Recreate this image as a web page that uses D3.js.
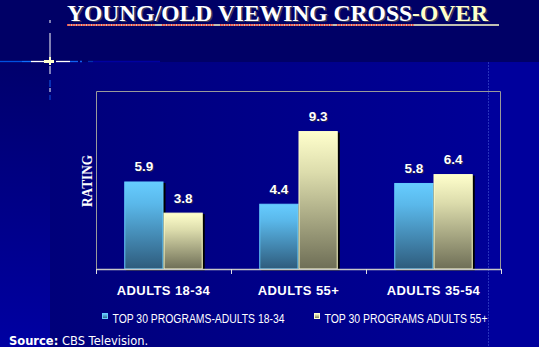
<!DOCTYPE html>
<html><head><meta charset="utf-8">
<script src="https://cdn.jsdelivr.net/npm/d3@7"></script>
<style>html,body{margin:0;padding:0;background:#00009c;overflow:hidden}svg{display:block}</style>
</head><body>
<script>
const categories = ["ADULTS 18-34", "ADULTS 55+", "ADULTS 35-54"];
const seriesNames = ["TOP 30 PROGRAMS-ADULTS 18-34", "TOP 30 PROGRAMS ADULTS 55+"];
const young = [5.9, 4.4, 5.8];
const old = [3.8, 9.3, 6.4];
const yDomain = [0, 12];

(function () {
const W = 539, H = 347;
const svg = d3.select("body").append("svg").attr("width", W).attr("height", H);
const defs = svg.append("defs");

function lin(id, x2, y2, stops) {
  const g = defs.append("linearGradient").attr("id", id)
    .attr("x1", 0).attr("y1", 0).attr("x2", x2).attr("y2", y2);
  stops.forEach(([o, c]) => g.append("stop").attr("offset", o).attr("stop-color", c));
}
lin("gBlue", 0, 1, [[0, "#66ccff"], [0.25, "#5ab8ea"], [1, "#2e5b7c"]]);
lin("gCream", 0, 1, [[0, "#ffffcc"], [0.3, "#dcdcac"], [1, "#6e6e56"]]);
lin("gPanel", 1, 0, [[0, "#00007a"], [1, "#000097"]]);
lin("gLeft", 0, 1, [[0, "#00006c"], [1, "#0000a2"]]);

// background
svg.append("rect").attr("width", W).attr("height", H).attr("fill", "#00009c");
svg.append("rect").attr("x", 0).attr("y", 62).attr("width", 50).attr("height", H - 62).attr("fill", "url(#gLeft)");
svg.append("rect").attr("x", 50).attr("y", 62).attr("width", 438).attr("height", H - 62).attr("fill", "url(#gPanel)");
svg.append("rect").attr("width", W).attr("height", 62).attr("fill", "#000066");
svg.append("line").attr("x1", 488.5).attr("x2", 488.5).attr("y1", 62).attr("y2", H)
  .attr("stroke", "#3a48c8").attr("stroke-width", 1).attr("stroke-dasharray", "2,1").attr("opacity", 0.7);

// crosshair decoration
const deco = svg.append("g");
[[0, 22, "#0050e0"], [22, 31, "#1070ff"], [31, 44, "#ffffff"], [56, 70, "#ffffff"], [70, 78, "#1060f0"], [80, 82, "#1060f0"], [88, 93, "#0030b0"], [93, 160, "#0000a0"]]
  .forEach(([a, b, c]) => deco.append("line").attr("x1", a).attr("x2", b).attr("y1", 61.5).attr("y2", 61.5).attr("stroke", c).attr("stroke-width", 1.3));
[[20, 23, "#ffffff"], [33, 57, "#ffffff"], [66, 74, "#ffffff"], [80, 87, "#1060f0"], [88, 92, "#ffffff"], [95, 100, "#1050e0"]]
  .forEach(([a, b, c]) => deco.append("line").attr("x1", 50).attr("x2", 50).attr("y1", a).attr("y2", b).attr("stroke", c).attr("stroke-width", 1));
deco.append("rect").attr("x", 44).attr("y", 60).attr("width", 10).attr("height", 3).attr("fill", "#ffffcc");
deco.append("rect").attr("x", 49).attr("y", 57).attr("width", 2).attr("height", 8).attr("fill", "#ffffcc");

// title
const title = svg.append("text").attr("x", 67).attr("y", 20.5)
  .attr("font-family", "'Liberation Serif', 'Times New Roman', serif").attr("font-weight", "bold")
  .attr("font-size", 23.5).attr("textLength", 421).attr("lengthAdjust", "spacingAndGlyphs")
  .style("text-shadow", "1.5px 1.5px 0 #3a3a5a");
title.append("tspan").attr("fill", "#ffffff").text("YOUNG/OLD VIEWING CROSS");
title.append("tspan").attr("fill", "#ffffcc").text("-OVER");
// underline
svg.append("line").attr("x1", 67).attr("x2", 499).attr("y1", 25).attr("y2", 25).attr("stroke", "#ffffcc").attr("stroke-width", 1.6);
[[67, 155], [162, 214], [220, 333], [337, 414]].forEach(([a, b]) =>
  svg.append("line").attr("x1", a).attr("x2", b).attr("y1", 25).attr("y2", 25)
    .attr("stroke", "#ff2020").attr("stroke-width", 1.6).attr("stroke-dasharray", "1.5,1"));

// chart
const pLeft = 96, pRight = 501, pTop = 91, pBottom = 269;
const x0 = d3.scaleBand().domain(categories).range([pLeft, pRight]).paddingInner(0).paddingOuter(0);
const x1 = d3.scaleBand().domain(seriesNames).range([0, x0.bandwidth()]).paddingInner(0).paddingOuter(0.72);
const y = d3.scaleLinear().domain(yDomain).range([pBottom, pTop]);

// frame
svg.append("path").attr("d", `M${pLeft + 0.5},${pBottom}V${pTop + 0.5}H${pRight - 0.5}V${pBottom}`)
  .attr("fill", "none").attr("stroke", "#9a9a9a").attr("stroke-width", 1);

const data = categories.map((c, i) => ({ c, vals: [young[i], old[i]] }));
const fills = ["url(#gBlue)", "url(#gCream)"];
const borders = ["#66ccff", "#ffffcc"];

const groups = svg.append("g").selectAll("g").data(data).join("g")
  .attr("transform", d => `translate(${x0(d.c)},0)`);
groups.selectAll("rect.sh").data(d => d.vals.map((v, k) => ({ v, k }))).join("rect").attr("class", "sh")
  .attr("x", d => x1(seriesNames[d.k]) + 2).attr("y", d => y(d.v) + 1.5)
  .attr("width", x1.bandwidth()).attr("height", d => pBottom - y(d.v))
  .attr("fill", "#000000");
groups.selectAll("rect.bar").data(d => d.vals.map((v, k) => ({ v, k }))).join("rect").attr("class", "bar")
  .attr("x", d => x1(seriesNames[d.k]) + 0.5).attr("y", d => y(d.v) + 0.5)
  .attr("width", x1.bandwidth() - 1).attr("height", d => pBottom - y(d.v) - 0.5)
  .attr("fill", d => fills[d.k]).attr("stroke", d => borders[d.k]).attr("stroke-width", 1);
groups.selectAll("text.val").data(d => d.vals.map((v, k) => ({ v, k }))).join("text").attr("class", "val")
  .attr("x", d => x1(seriesNames[d.k]) + x1.bandwidth() / 2).attr("y", d => y(d.v) - 10)
  .attr("text-anchor", "middle").attr("fill", "#ffffff")
  .attr("font-family", "'Liberation Sans', Arial, sans-serif").attr("font-weight", "bold").attr("font-size", 13.5)
  .style("text-shadow", "1px 1px 0 #202050")
  .text(d => d.v.toFixed(1));

// x axis
const axis = svg.append("g").attr("transform", `translate(0,${pBottom})`)
  .call(d3.axisBottom(x0).tickSize(0).tickFormat(""));
axis.select(".domain").attr("stroke", "#c8c8c8").attr("stroke-width", 1.5);
const tickPos = categories.map(c => x0(c)).concat([x0.range()[1]]);
svg.append("g").selectAll("line").data(tickPos).join("line")
  .attr("x1", d => d + 0.5).attr("x2", d => d + 0.5).attr("y1", pBottom).attr("y2", pBottom + 5)
  .attr("stroke", "#e0e0e0").attr("stroke-width", 1);
svg.append("g").selectAll("text").data(categories).join("text")
  .attr("x", d => x0(d) + x0.bandwidth() / 2).attr("y", 295)
  .attr("text-anchor", "middle").attr("fill", "#ffffff")
  .attr("font-family", "'Liberation Sans', Arial, sans-serif").attr("font-weight", "bold").attr("font-size", 13)
  .attr("letter-spacing", 0.4)
  .text(d => d);

// y label
svg.append("text").attr("transform", "translate(91.5,181) rotate(-90)")
  .attr("text-anchor", "middle").attr("fill", "#ffffff")
  .attr("font-family", "'Liberation Serif', 'Times New Roman', serif").attr("font-weight", "bold").attr("font-size", 14)
  .attr("textLength", 52).attr("lengthAdjust", "spacingAndGlyphs")
  .text("RATING");

// legend
const legX = [102, 314], legW = [172, 163];
seriesNames.forEach((s, k) => {
  svg.append("rect").attr("x", legX[k] + 0.5).attr("y", 313.5).attr("width", 5).attr("height", 5)
    .attr("fill", fills[k]).attr("stroke", borders[k]).attr("stroke-width", 1);
  svg.append("text").attr("x", legX[k] + 10.5).attr("y", 322.5).attr("fill", "#ffffff")
    .attr("font-family", "'Liberation Sans', Arial, sans-serif").attr("font-size", 12.5)
    .attr("textLength", legW[k]).attr("lengthAdjust", "spacingAndGlyphs")
    .text(s);
});

// source
const src = svg.append("text").attr("x", 9).attr("y", 344.5).attr("fill", "#ffffff")
  .attr("font-family", "'DejaVu Sans', Verdana, sans-serif").attr("font-size", 11.5);
src.append("tspan").attr("font-weight", "bold").text("Source:");
src.append("tspan").text(" CBS Television.");
})();
</script>
</body></html>
